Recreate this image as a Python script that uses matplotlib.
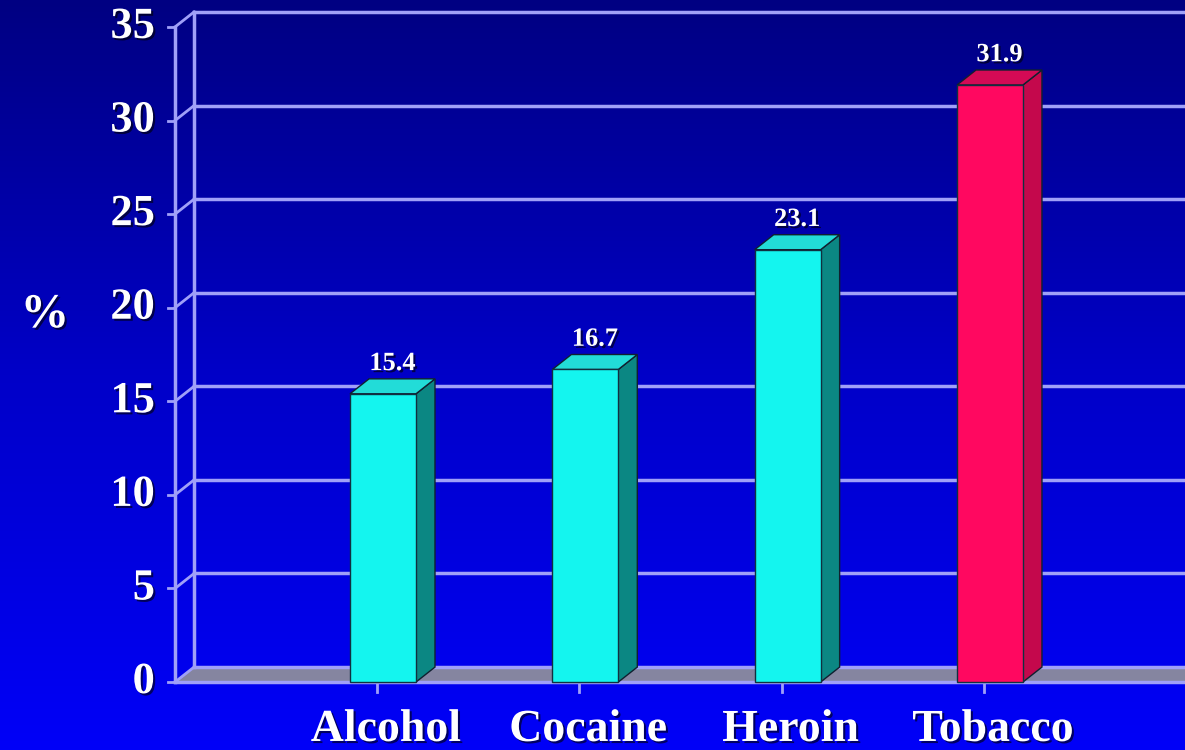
import numpy as np
import matplotlib.pyplot as plt
from matplotlib.patches import Polygon
import matplotlib.patheffects as pe

# dados do gráfico
categorias = ['Alcohol', 'Cocaine', 'Heroin', 'Tobacco']
valores = [15.4, 16.7, 23.1, 31.9]
rotulos = ['15.4', '16.7', '23.1', '31.9']
cores_frente = ['#14f5ef', '#14f5ef', '#14f5ef', '#ff0860']
cores_lado = ['#0b8783', '#0b8783', '#0b8783', '#c4084c']
cores_topo = ['#22dcd8', '#22dcd8', '#22dcd8', '#d40a55']
y_ticks = [0, 5, 10, 15, 20, 25, 30, 35]

largura = 0.326      # largura da face frontal (unidades de categoria)
dx, dy = 0.094, 0.8  # profundidade do efeito 3D
x_frente = -1.028    # eixo vertical frontal
x_fundo = x_frente + dx
xmin, xmax = -1.893, 3.964
ymin, ymax = -3.63, 36.44
cor_grade = '#a0a0f8'
fonte = 'Liberation Serif'
sombra = [pe.withSimplePatchShadow(offset=(1.5, -1.5), shadow_rgbFace='black', alpha=0.6)]

fig = plt.figure(figsize=(11.85, 7.5), dpi=100)
ax = fig.add_axes([0, 0, 1, 1])
ax.set_xlim(xmin, xmax)
ax.set_ylim(ymin, ymax)
ax.axis('off')

# fundo em degradê
grad = np.linspace(0, 1, 256).reshape(-1, 1)
cmap = plt.matplotlib.colors.LinearSegmentedColormap.from_list(
    'fundo', ['#0000f8', '#0000c8', '#000082'])
ax.imshow(grad, extent=[xmin, xmax, ymin, ymax], origin='lower',
          cmap=cmap, aspect='auto', zorder=0)

# chão cinza
chao = Polygon([(x_frente, 0), (xmax, 0), (xmax, dy), (x_fundo, dy)],
               closed=True, facecolor='#8585a0', edgecolor='none', zorder=1)
ax.add_patch(chao)
ax.plot([x_frente, xmax], [0, 0], color=cor_grade, lw=2.5, zorder=2)

# grade na parede de fundo e parede lateral
for v in y_ticks:
    ax.plot([x_fundo, xmax], [v + dy, v + dy], color=cor_grade, lw=2.5, zorder=2)
    ax.plot([x_frente, x_fundo], [v, v + dy], color=cor_grade, lw=2, zorder=2)
    ax.plot([x_frente - 0.035, x_frente], [v, v], color=cor_grade, lw=2, zorder=2)
    ax.text(-1.127, v, str(v), ha='right', va='center', fontsize=32,
            fontweight='bold', family=fonte, color='white', path_effects=sombra, zorder=5)
ax.plot([x_frente, x_frente], [0, 35], color=cor_grade, lw=2.5, zorder=2)
ax.plot([x_fundo, x_fundo], [dy, 35 + dy], color=cor_grade, lw=2.5, zorder=2)

# barras 3D
for i, v in enumerate(valores):
    x0 = i - largura / 2
    x1 = i + largura / 2
    lado = Polygon([(x1, 0), (x1 + dx, dy), (x1 + dx, v + dy), (x1, v)],
                   facecolor=cores_lado[i], edgecolor='#102030', lw=1, zorder=3)
    topo = Polygon([(x0, v), (x1, v), (x1 + dx, v + dy), (x0 + dx, v + dy)],
                   facecolor=cores_topo[i], edgecolor='#102030', lw=1, zorder=3)
    frente = Polygon([(x0, 0), (x1, 0), (x1, v), (x0, v)],
                     facecolor=cores_frente[i], edgecolor='#103040', lw=1, zorder=4)
    for p in (lado, topo, frente):
        ax.add_patch(p)
    ax.text(i + dx / 2, v + dy + 0.2, rotulos[i], ha='center', va='bottom',
            fontsize=19, fontweight='bold', family=fonte, color='white',
            path_effects=sombra, zorder=5)
    ax.plot([i - 0.03, i - 0.03], [0, -0.55], color=cor_grade, lw=2, zorder=2)
    ax.text(i + 0.015, -2.56, categorias[i], ha='center', va='center', fontsize=33,
            fontweight='bold', family=fonte, color='white', path_effects=sombra, zorder=5)

ax.text(-1.671, 19.6, '%', ha='center', va='center', fontsize=35,
        fontweight='bold', family=fonte, color='white', path_effects=sombra, zorder=5)

fig.savefig('out.png', dpi=100)
